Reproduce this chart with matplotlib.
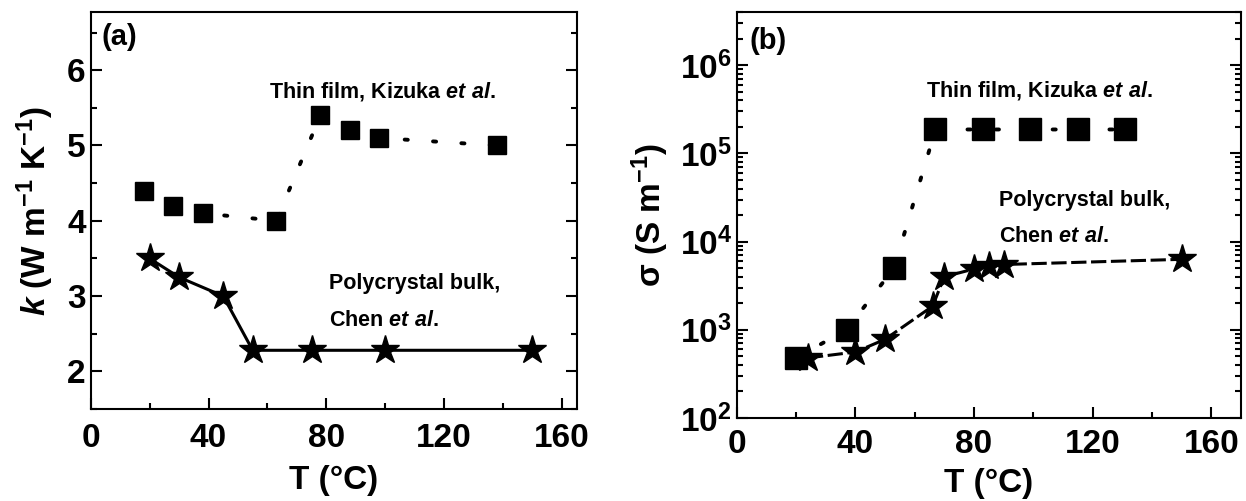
import math
import matplotlib
matplotlib.use('Agg')
import matplotlib.pyplot as plt
from matplotlib.ticker import MultipleLocator, LogLocator, FuncFormatter, NullFormatter
from matplotlib import font_manager

names = {f.name for f in font_manager.fontManager.ttflist}
FONT = 'Liberation Sans Narrow' if 'Liberation Sans Narrow' in names else 'Liberation Sans'
plt.rcParams['font.family'] = [FONT, 'DejaVu Sans']
plt.rcParams['font.weight'] = 'bold'
plt.rcParams['mathtext.fontset'] = 'custom'
plt.rcParams['mathtext.rm'] = FONT + ':bold'
plt.rcParams['mathtext.bf'] = FONT + ':bold'
plt.rcParams['mathtext.it'] = FONT + ':italic:bold'
plt.rcParams['mathtext.default'] = 'bf'

# (a) thermal conductivity
film_T_a = [18, 28, 38, 63, 78, 88, 98, 138]
film_k = [4.4, 4.2, 4.1, 4.0, 5.4, 5.2, 5.1, 5.0]
bulk_T_a = [20, 30, 45, 55, 75, 100, 150]
bulk_k = [3.5, 3.25, 3.0, 2.28, 2.28, 2.28, 2.28]

# (b) electrical conductivity
film_T_b = [20, 37, 53, 67, 83, 99, 115, 131]
film_sigma = [480, 1000, 5000, 1.87e5, 1.87e5, 1.87e5, 1.87e5, 1.87e5]
bulk_T_b = [24, 40, 50, 66, 70, 80, 85, 90, 150]
bulk_sigma = [480, 560, 780, 1850, 4000, 4900, 5250, 5500, 6300]

fig = plt.figure(figsize=(12.46, 5.01), dpi=100)
ax1 = fig.add_axes([0.0728, 0.1836, 0.390, 0.792])
ax2 = fig.add_axes([0.5913, 0.1657, 0.4047, 0.810])

dots = (0, (0.8, 6.5))

# panel (a)
ax1.plot(film_T_a, film_k, color='black', lw=2.8, ls=dots, dash_capstyle='round',
         marker='s', ms=13, mec='black', mfc='black')
ax1.plot(bulk_T_a, bulk_k, color='black', lw=2.2, ls='-',
         marker='*', ms=21, mec='black', mfc='black')
ax1.set_xlim(0, 165)
ax1.set_ylim(1.5, 6.77)
ax1.xaxis.set_major_locator(MultipleLocator(40))
ax1.xaxis.set_minor_locator(MultipleLocator(20))
ax1.yaxis.set_major_locator(MultipleLocator(1))
ax1.yaxis.set_minor_locator(MultipleLocator(0.5))
ax1.set_xlabel('T (°C)', fontsize=24, fontweight='bold', labelpad=8)
ax1.set_ylabel(r'$\mathit{k}$ (W m$^{-1}$ K$^{-1}$)', fontsize=24, fontweight='bold', labelpad=8)
ax1.text(3.6, 6.33, '(a)', fontsize=21, fontweight='bold')
ax1.text(60.5, 5.64, r'Thin film, Kizuka $\mathit{et\ al.}$', fontsize=15.5, fontweight='bold')
ax1.text(81, 3.09, 'Polycrystal bulk,', fontsize=15.5, fontweight='bold')
ax1.text(81, 2.60, r'Chen $\mathit{et\ al.}$', fontsize=15.5, fontweight='bold')

# panel (b)
ax2.plot(film_T_b, film_sigma, color='black', lw=2.8, ls=dots, dash_capstyle='round',
         marker='s', ms=16, mec='black', mfc='black')
ax2.plot(bulk_T_b, bulk_sigma, color='black', lw=2.2, ls=(0, (5, 1.5)),
         marker='*', ms=21, mec='black', mfc='black')
ax2.set_yscale('log')
ax2.set_xlim(0, 170)
ax2.set_ylim(100, 4e6)
ax2.xaxis.set_major_locator(MultipleLocator(40))
ax2.xaxis.set_minor_locator(MultipleLocator(20))
ax2.yaxis.set_major_locator(LogLocator(base=10, numticks=10))
ax2.yaxis.set_minor_locator(LogLocator(base=10, subs=range(2, 10), numticks=10))
ax2.yaxis.set_minor_formatter(NullFormatter())
ax2.yaxis.set_major_formatter(FuncFormatter(lambda v, p: r'$10^{%d}$' % round(math.log10(v))))
ax2.set_xlabel('T (°C)', fontsize=24, fontweight='bold', labelpad=6)
ax2.set_ylabel('σ (S m$^{-1}$)', fontsize=24, fontweight='bold', labelpad=6)
ax2.text(4.4, 10**6.18, '(b)', fontsize=21, fontweight='bold')
ax2.text(63.7, 10**5.65, r'Thin film, Kizuka $\mathit{et\ al.}$', fontsize=15.5, fontweight='bold')
ax2.text(88.4, 10**4.40, 'Polycrystal bulk,', fontsize=15.5, fontweight='bold')
ax2.text(88.4, 10**4.0, r'Chen $\mathit{et\ al.}$', fontsize=15.5, fontweight='bold')

for ax in (ax1, ax2):
    for s in ax.spines.values():
        s.set_linewidth(1.5)
    ax.tick_params(which='both', direction='in', top=False, right=True, width=1.5,
                   labelsize=24)
    ax.tick_params(which='major', length=8)
    ax.tick_params(which='minor', length=4)
    for lab in ax.get_xticklabels() + ax.get_yticklabels():
        lab.set_fontweight('bold')

ax1.tick_params(axis='x', which='major', pad=10)
ax2.tick_params(axis='x', which='major', pad=8)

fig.savefig('out.png', dpi=100)
